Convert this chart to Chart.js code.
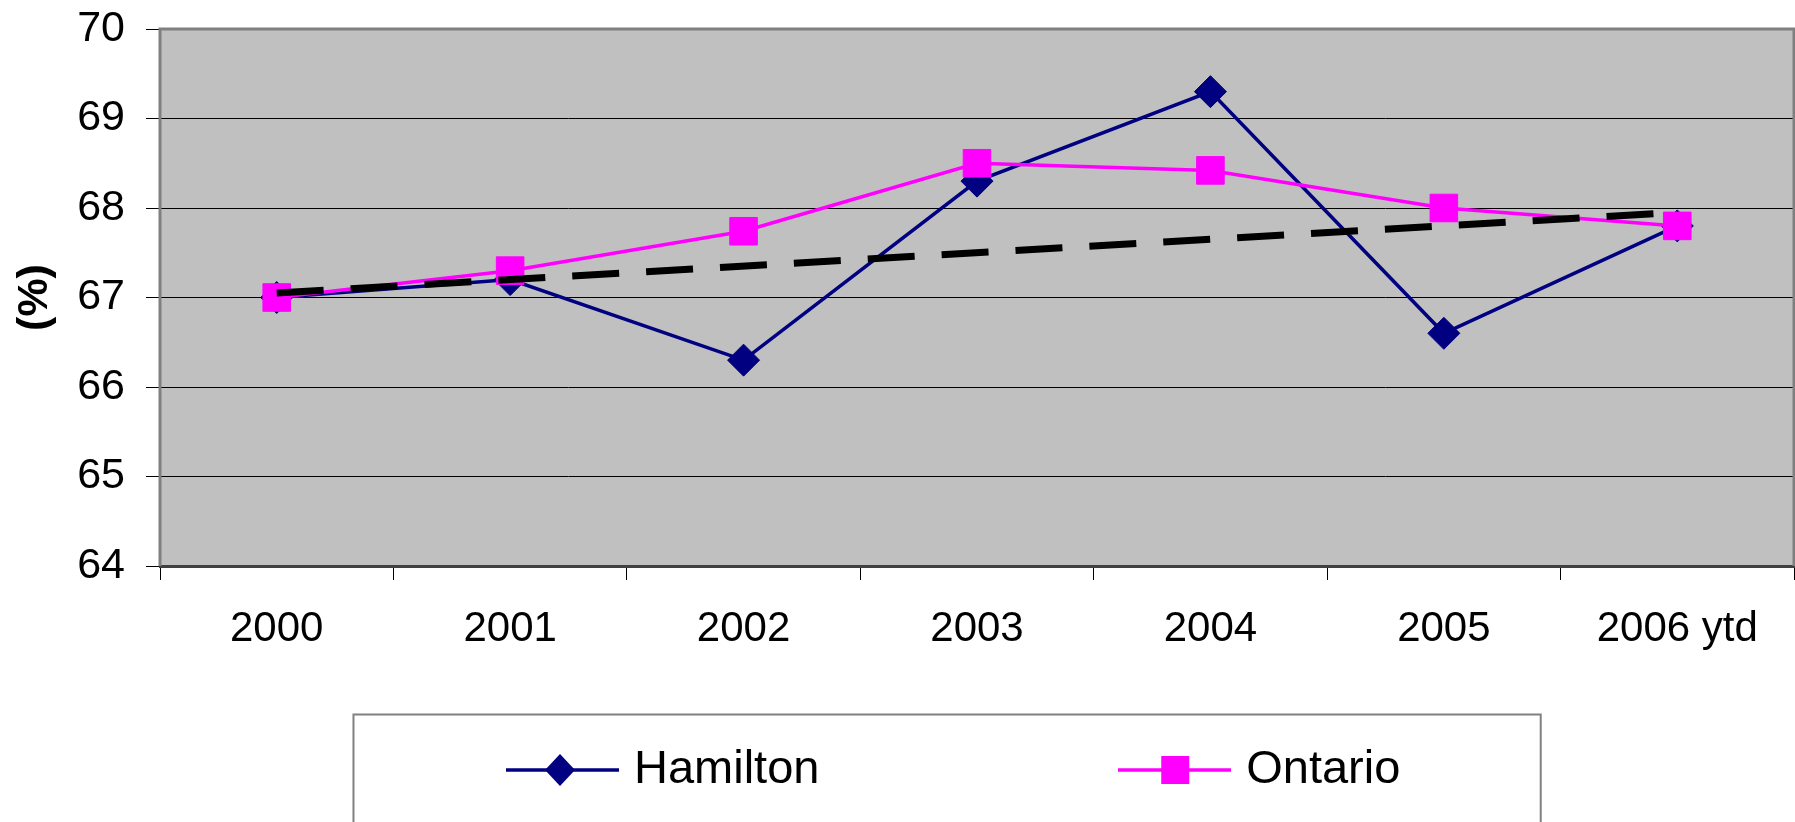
<!DOCTYPE html>
<html>
<head>
<meta charset="utf-8">
<script src="https://cdn.jsdelivr.net/npm/chart.js@4/dist/chart.umd.min.js"></script>
<style>
	html, body { margin: 0; padding: 0; background: #fff; }
	#wrap { width: 1795px; height: 822px; }
</style>
</head>
<body>
<div id="wrap"><canvas id="my_Chart" width="1795" height="822"></canvas></div>
<script>
// values
var years = ['2000', '2001', '2002', '2003', '2004', '2005', '2006 ytd'];
var hamilton = [67.0, 67.2, 66.3, 68.3, 69.3, 66.6, 67.8];
var ontario = [67.0, 67.3, 67.74, 68.5, 68.42, 68.0, 67.8];
// dashed trend line, only its two ends
var trend = [67.05, null, null, null, null, null, 67.95];
var yMin = 64, yMax = 70, yStep = 1;

var FONT = '"Liberation Sans", Arial, sans-serif';

function legendIcon(color, shape){
	var c = document.createElement('canvas');
	c.width = 113; c.height = 34;
	var ctx = c.getContext('2d');
	ctx.strokeStyle = color;
	ctx.lineWidth = 3.5;
	ctx.beginPath();
	ctx.moveTo(0, 17); ctx.lineTo(113, 17);
	ctx.stroke();
	ctx.fillStyle = color;
	ctx.beginPath();
	if (shape == 'diamond') {
		ctx.moveTo(54, 1); ctx.lineTo(69, 17); ctx.lineTo(54, 33); ctx.lineTo(39, 17);
	} else {
		ctx.rect(43, 3, 28, 28);
	}
	ctx.closePath();
	ctx.fill();
	return c;
}

var plotBack = {
	id: 'plotBack',
	beforeDraw: function(chart){
		var a = chart.chartArea, ctx = chart.ctx;
		ctx.save();
		ctx.fillStyle = '#C0C0C0';
		ctx.fillRect(a.left, a.top, a.right - a.left, a.bottom - a.top);
		ctx.restore();
	},
	beforeDatasetsDraw: function(chart){
		var a = chart.chartArea, ctx = chart.ctx;
		ctx.save();
		ctx.strokeStyle = '#808080';
		ctx.lineWidth = 3;
		ctx.beginPath();
		ctx.moveTo(a.left, a.bottom);
		ctx.lineTo(a.left, a.top);
		ctx.lineTo(a.right, a.top);
		ctx.lineTo(a.right, a.bottom);
		ctx.stroke();
		ctx.restore();
	},
	afterDraw: function(chart){
		// frame round the legend
		var hb = chart.legend.legendHitBoxes;
		if (!hb || hb.length < 2) return;
		var ctx = chart.ctx;
		var left = hb[0].left - 161, right = hb[1].left + 414, top = hb[0].top - 32;
		ctx.save();
		ctx.strokeStyle = '#808080';
		ctx.lineWidth = 2;
		ctx.strokeRect(left, top, right - left, chart.height + 20 - top);
		ctx.restore();
	}
};

var hamIcon = legendIcon('#000080', 'diamond');
var ontIcon = legendIcon('#FF00FF', 'square');

var myData = {
	type: 'line',
	data: {
		labels: years,
		datasets: [
			{
				label: 'Hamilton',
				data: hamilton,
				order: 2,
				borderColor: '#000080',
				backgroundColor: '#000080',
				borderWidth: 3.5,
				tension: 0,
				pointStyle: 'rectRot',
				pointRadius: 16,
				pointBorderWidth: 1,
				pointBackgroundColor: '#000080',
				pointBorderColor: '#000080'
			},
			{
				label: 'Ontario',
				data: ontario,
				order: 1,
				borderColor: '#FF00FF',
				backgroundColor: '#FF00FF',
				borderWidth: 3.5,
				tension: 0,
				pointStyle: 'rect',
				pointRadius: 19.5,
				pointBorderWidth: 1,
				pointBackgroundColor: '#FF00FF',
				pointBorderColor: '#FF00FF'
			},
			{
				label: 'trend',
				data: trend,
				order: 0,
				spanGaps: true,
				borderColor: '#000',
				borderWidth: 7,
				borderDash: [47, 27],
				borderCapStyle: 'butt',
				pointRadius: 0,
				tension: 0
			}
		]
	},
	options: {
		responsive: false,
		animation: false,
		layout: { autoPadding: false, padding: { top: 29, right: 1, bottom: 18.5, left: 0 } },
		plugins: {
			tooltip: { enabled: false },
			legend: {
				position: 'bottom',
				fullSize: false,
				labels: {
					usePointStyle: true,
					pointStyleWidth: 96,
					padding: 20,
					color: '#000',
					font: { family: FONT, size: 47 },
					generateLabels: function(chart){
						return [
							{ text: 'Hamilton' + ' '.repeat(22), pointStyle: hamIcon, datasetIndex: 0, lineWidth: 0, hidden: false, fontColor: '#000' },
							{ text: 'Ontario' + ' '.repeat(3), pointStyle: ontIcon, datasetIndex: 1, lineWidth: 0, hidden: false, fontColor: '#000' }
						];
					}
				}
			}
		},
		scales: {
			x: {
				offset: true,
				afterFit: function(s){ s.height = 160.5; s.paddingLeft = 0; s.paddingRight = 0; },
				grid: { offset: true, drawOnChartArea: false, drawTicks: true, tickLength: 14, color: '#000', lineWidth: 1 },
				border: { display: true, color: '#404040', width: 3 },
				ticks: { color: '#000', padding: 24, maxRotation: 0, font: { family: FONT, size: 42 } }
			},
			y: {
				min: yMin,
				max: yMax,
				afterFit: function(s){ s.width = 160; s.paddingTop = 0; s.paddingBottom = 0; },
				title: {
					display: true,
					text: '(%)',
					color: '#000',
					padding: { top: 9, bottom: 0 },
					font: { family: FONT, size: 43, weight: 'bold' }
				},
				grid: { color: '#000', lineWidth: 1, tickLength: 14, drawTicks: true },
				border: { display: false },
				ticks: { stepSize: yStep, color: '#000', padding: 21, font: { family: FONT, size: 43 } }
			}
		}
	},
	plugins: [plotBack]
};

new Chart(document.getElementById('my_Chart'), myData);
</script>
</body>
</html>
